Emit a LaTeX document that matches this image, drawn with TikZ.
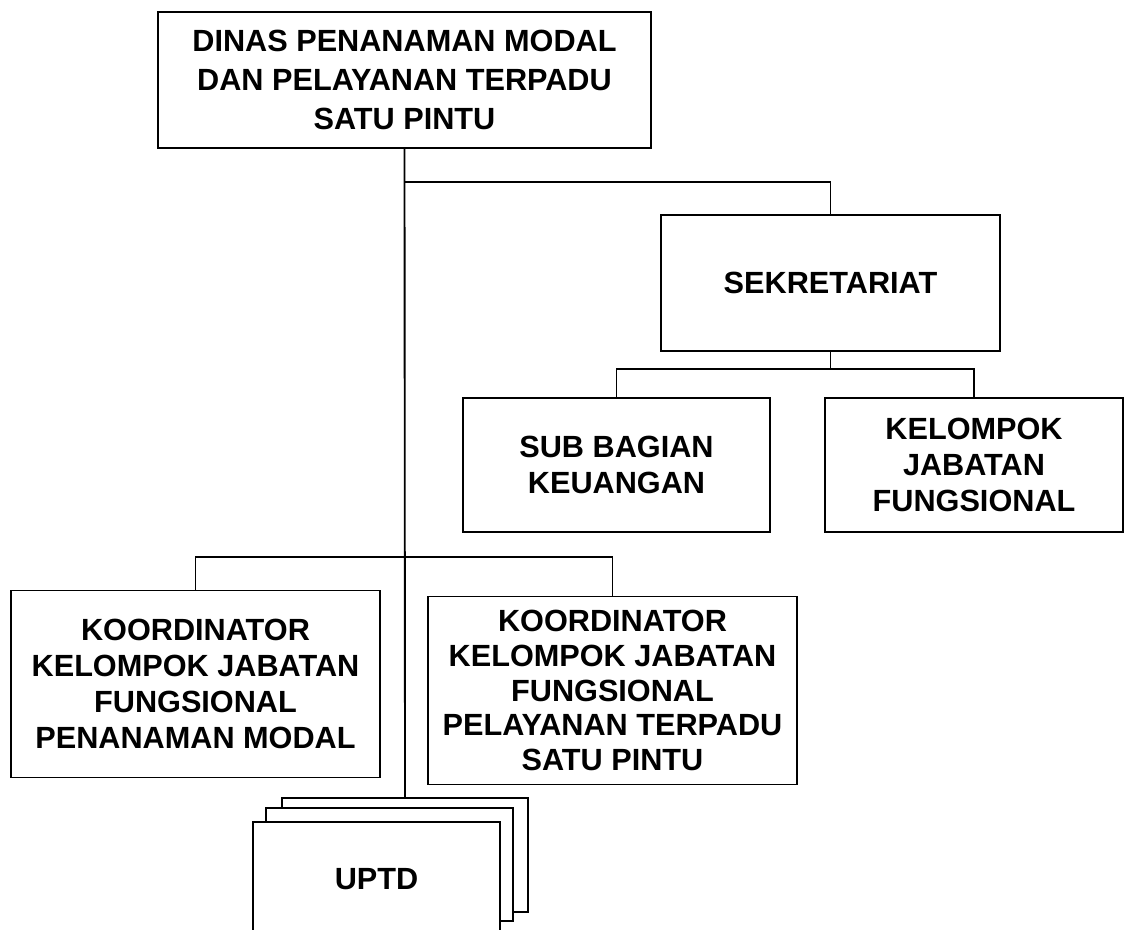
\documentclass[tikz,border=0pt]{standalone}
\usepackage{fontspec}
\setmainfont{Liberation Sans}
\usepackage{tikz}

\begin{document}
\begin{tikzpicture}[x=0.75pt,y=-0.75pt,line width=1.4pt,
	unit/.style={draw,fill=white,align=center,inner sep=0pt,
		font=\bfseries\fontsize{23}{27}\selectfont}]
	\clip (0,0) rectangle (1127,930);
	% kepala dinas dan sekretariat
	\node[unit,minimum width=369.75pt,minimum height=102pt,
		font=\bfseries\fontsize{23}{29}\selectfont] (dinas) at (404.5,80)
		{DINAS PENANAMAN MODAL\\DAN PELAYANAN TERPADU\\SATU PINTU};
	\node[unit,minimum width=254.25pt,minimum height=102pt] (sekr) at (830.5,283) {SEKRETARIAT};
	\node[unit,minimum width=230.25pt,minimum height=100.5pt] (subbag) at (616.5,465) {SUB BAGIAN\\KEUANGAN};
	\node[unit,minimum width=223.5pt,minimum height=100.5pt] (kjf) at (974,465) {KELOMPOK\\JABATAN\\FUNGSIONAL};
	% koordinator
	\node[unit,minimum width=276.75pt,minimum height=140.25pt] (koorpm) at (195.5,684)
		{KOORDINATOR\\KELOMPOK JABATAN\\FUNGSIONAL\\PENANAMAN MODAL};
	\node[unit,minimum width=276.75pt,minimum height=141pt,
		font=\bfseries\fontsize{23}{26}\selectfont] (koorptsp) at (612.5,690.5)
		{KOORDINATOR\\KELOMPOK JABATAN\\FUNGSIONAL\\PELAYANAN TERPADU\\SATU PINTU};
	% uptd (bertumpuk)
	\node[unit,minimum width=184.5pt,minimum height=85.5pt] (uptdc) at (405,855) {};
	\node[unit,minimum width=185.25pt,minimum height=84.75pt] (uptdb) at (389.5,864.5) {};
	\node[unit,minimum width=185.25pt,minimum height=85.5pt] (uptda) at (376.5,879) {UPTD};
	\coordinate (cab1) at (405,182);
	\coordinate (cab2) at (405,557);
	\coordinate (cab3) at (830.5,369);
	\draw (dinas.south) -- (uptdc.north);
	\draw (cab1) -| (sekr.north);
	\draw (sekr.south) -- (cab3);
	\draw (subbag.north) |- (cab3) -| (kjf.north);
	\draw (koorpm.north) |- (cab2) -| (koorptsp.north);
\end{tikzpicture}
\end{document}
